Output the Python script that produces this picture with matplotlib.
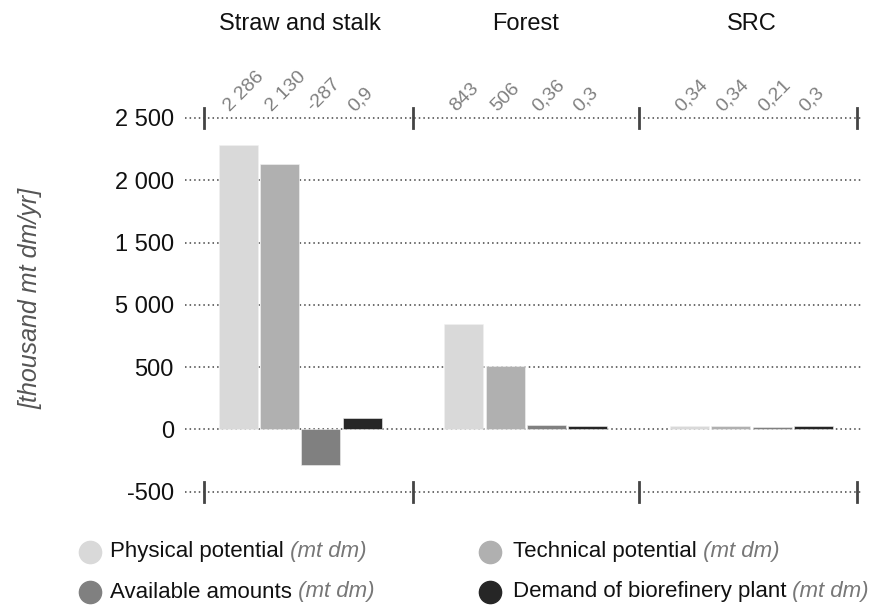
import matplotlib
matplotlib.use('Agg')
import matplotlib.pyplot as plt
from matplotlib.lines import Line2D
import numpy as np

plt.rcParams['font.family'] = ['Liberation Sans', 'DejaVu Sans']

# ---------------- data ----------------
categories = ["Straw and stalk", "Forest", "SRC"]
series_names = ["Physical potential", "Technical potential",
                "Available amounts", "Demand of biorefinery plant"]
physical = [2286, 843, 30]
technical = [2130, 506, 30]
available = [-287, 34, 16]
demand = [90, 28, 28]
physical_labels = ["2 286", "843", "0,34"]
technical_labels = ["2 130", "506", "0,34"]
available_labels = ["-287", "0,36", "0,21"]
demand_labels = ["0,9", "0,3", "0,3"]
ytick_values = [-500, 0, 500, 1000, 1500, 2000, 2500]
ytick_labels = ["-500", "0", "500", "5 000", "1 500", "2 000", "2 500"]
unit_suffix = " (mt dm)"
y_label = "[thousand mt dm/yr]"

colors = ["#d9d9d9", "#b0b0b0", "#808080", "#262626"]

W, H = 883, 607
fig = plt.figure(figsize=(W / 100, H / 100), dpi=100)


def fx(px):
    return px / W


def fy(py):
    return 1 - py / H


ax = fig.add_axes([fx(185), fy(504.2), (862 - 185) / W, (504.2 - 105.5) / H])
ax.set_xlim(-0.51, 2.49)
ax.set_ylim(-600, 2600)

x = np.arange(len(categories))
step = 0.183
width = 0.173
offsets = (np.arange(4) - 1.5) * step
all_vals = [physical, technical, available, demand]
all_labels = [physical_labels, technical_labels, available_labels, demand_labels]

for j, (vals, labs, col) in enumerate(zip(all_vals, all_labels, colors)):
    ax.bar(x + offsets[j], vals, width, color=col, edgecolor='#f2f2f2',
           linewidth=0.4, zorder=3)
    for xi, lab in zip(x + offsets[j], labs):
        ax.text(xi - 0.035, 2545, lab, rotation=45, rotation_mode='anchor',
                ha='left', va='baseline', fontsize=14, color='#808080',
                clip_on=False)

ax.set_yticks(ytick_values)
ax.set_yticklabels(ytick_labels)
ax.tick_params(axis='y', length=0, pad=8, labelsize=17, labelcolor='#111111')
ax.set_xticks([])
for s in ax.spines.values():
    s.set_visible(False)
ax.yaxis.grid(True, linestyle=(0, (1, 2)), color='#444444', linewidth=1.1)
ax.set_axisbelow(True)

for xs in [-0.427, 0.5, 1.5, 2.47]:
    for yv in [2500, -500]:
        ax.plot([xs, xs], [yv - 80, yv + 80], color='#444444', lw=2,
                zorder=4, clip_on=False)

for i, cat in enumerate(categories):
    ax.text(i, 3255, cat, ha='center', va='center', fontsize=17,
            color='#111111', clip_on=False)

fig.text(fx(30), fy(298), y_label, rotation=90, style='italic', fontsize=18,
         color='#555555', ha='center', va='center')

# legend
leg_pos = [(90, 110, 552), (490, 513, 552), (90, 110, 592), (490, 513, 592)]
for (cx, tx, cy), name, col in zip(leg_pos, series_names, colors):
    fig.add_artist(Line2D([fx(cx)], [fy(cy)], marker='o', markersize=16,
                          color=col, linestyle='none',
                          transform=fig.transFigure))
    t = fig.text(fx(tx), fy(cy), name, ha='left', va='center', fontsize=16,
                 color='#111111')
    ax.annotate(unit_suffix, xy=(1, 0), xycoords=t, ha='left', va='bottom',
                fontsize=16, style='italic', color='#777777',
                annotation_clip=False)

fig.savefig('out.png', dpi=100)
